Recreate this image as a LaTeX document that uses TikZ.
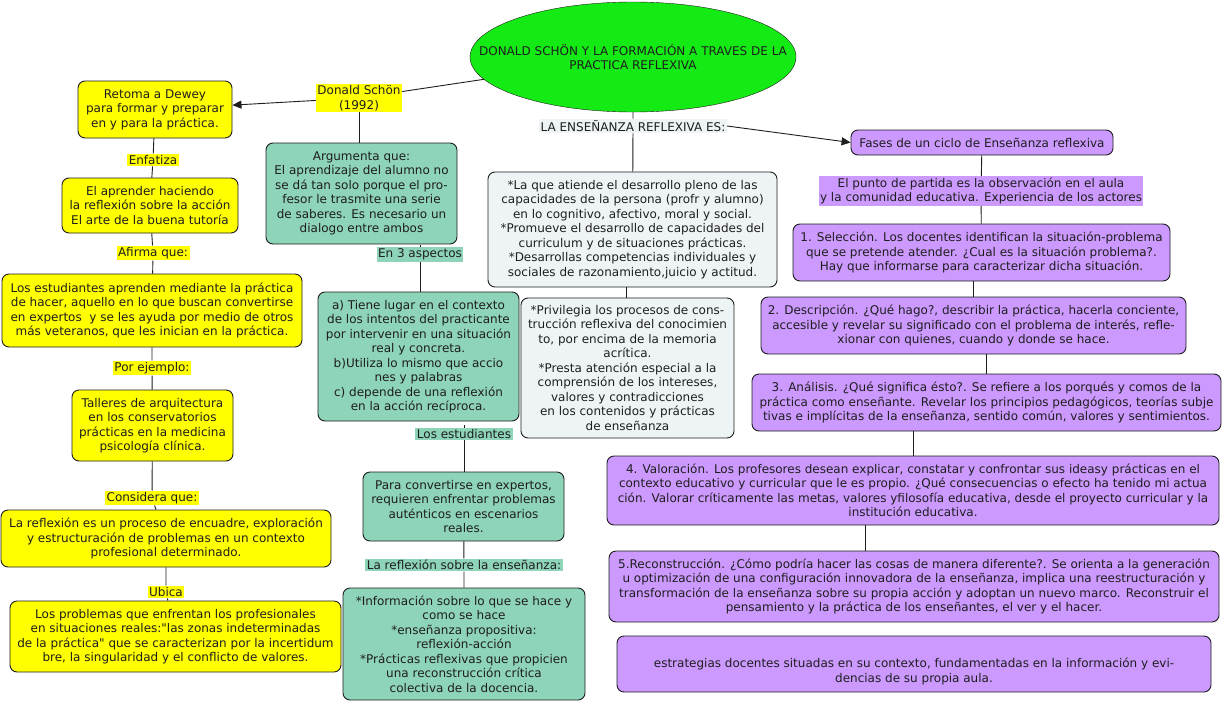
\documentclass[tikz,border=0pt]{standalone}
\usepackage{fontspec}
\setmainfont{DejaVu Sans}[Ligatures=TeXOff]
\usepackage{tikz}
\usetikzlibrary{arrows.meta, shapes.geometric}
\usepackage{xcolor}
\definecolor{brightyellow}{RGB}{255,255,0}
\definecolor{mintgreen}{RGB}{142,212,184}
\definecolor{palegray}{RGB}{238,244,246}
\definecolor{lilac}{RGB}{204,153,255}
\definecolor{limegreen}{RGB}{20,235,20}
\definecolor{inkgray}{RGB}{30,30,30}

\begin{document}
\begin{tikzpicture}[x=1pt, y=-1pt, >={Triangle[length=9pt, width=8pt]},
  every node/.style={font=\fontsize{12}{14.5}\selectfont, align=center, text=inkgray, inner sep=1.5pt},
  card/.style={draw=inkgray, line width=0.9pt, rounded corners=7pt},
  ybox/.style={card, fill=brightyellow},
  gbox/.style={card, fill=mintgreen},
  wbox/.style={card, fill=palegray},
  pbox/.style={card, fill=lilac},
  ylab/.style={fill=brightyellow},
  glab/.style={fill=mintgreen},
  plab/.style={fill=lilac},
  wlab/.style={fill=palegray},
  link/.style={draw=inkgray, line width=0.9pt}]
  \useasboundingbox[fill=white] (0,0) rectangle (1223,704);

  % Title
  \node[ellipse, draw=inkgray, fill=limegreen, minimum width=326, minimum height=110] (title) at (633,57) {};
  \node (titletext) at (title) {DONALD SCHÖN Y LA FORMACIÓN A TRAVES DE LA\\PRACTICA REFLEXIVA};

  % Left branch
  \node[ylab] (schon) at (359,98) {Donald Schön\\(1992)};
  \node[ybox, minimum width=154, minimum height=57] (retoma) at (155,109.5)
    {Retoma a Dewey\\para formar y preparar\\en y para la práctica.};
  \node[ylab] (enfatiza) at (153,160) {Enfatiza};
  \node[ybox, minimum width=176, minimum height=55] (aprender) at (150,205.5)
    {El aprender haciendo\\la reflexión sobre la acción\\El arte de la buena tutoría};
  \node[ylab] (afirma) at (153,253) {Afirma que:};
  \node[ybox, minimum width=300, minimum height=73] (estud) at (152,310.5)
    {Los estudiantes aprenden mediante la práctica\\de hacer, aquello en lo que buscan convertirse\\en expertos\ \ y se les ayuda por medio de otros\\más veteranos, que les inician en la práctica.};
  \node[ylab] (ejemplo) at (152,368) {Por ejemplo:};
  \node[ybox, minimum width=161, minimum height=71] (talleres) at (152.5,425.5)
    {Talleres de arquitectura\\en los conservatorios\\prácticas en la medicina\\psicología clínica.};
  \node[ylab] (considera) at (152,498) {Considera que:};
  \node[ybox, minimum width=330, minimum height=57] (reflexion) at (166,538.5)
    {La reflexión es un proceso de encuadre, exploración\\y estructuración de problemas en un contexto\\profesional determinado.};
  \node[ylab] (ubica) at (166,592) {Ubica};
  \node[ybox, minimum width=331, minimum height=71] (problemas) at (175.5,636.5)
    {Los problemas que enfrentan los profesionales\\en situaciones reales:"las zonas indeterminadas\\de la práctica" que se caracterizan por la incertidum\\bre, la singularidad y el conflicto de valores.};

  % Middle-left branch
  \node[gbox, minimum width=191, minimum height=101] (argumenta) at (361.5,193.5)
    {Argumenta que:\\El aprendizaje del alumno no\\se dá tan solo porque el pro-\\fesor le trasmite una serie\\de saberes. Es necesario un\\dialogo entre ambos};
  \node[glab] (aspectos) at (420,254.5) {En 3 aspectos};
  \node[gbox, minimum width=201, minimum height=129] (aspA) at (418.5,356.5)
    {a) Tiene lugar en el contexto\\de los intentos del practicante\\por intervenir en una situación\\real y concreta.\\b)Utiliza lo mismo que accio\\nes y palabras\\c) depende de una reflexión\\en la acción recíproca.};
  \node[glab] (losest) at (464,434) {Los estudiantes};
  \node[gbox, minimum width=201, minimum height=69] (para) at (463.5,506.5)
    {Para convertirse en expertos,\\requieren enfrentar problemas\\auténticos en escenarios\\reales.};
  \node[glab] (refens) at (464,565) {La reflexión sobre la enseñanza:};
  \node[gbox, minimum width=242, minimum height=112] (info) at (464,644)
    {*Información sobre lo que se hace y\\como se hace\\*enseñanza propositiva:\\reflexión-acción\\*Prácticas reflexivas que propicien\\una reconstrucción crítica\\colectiva de la docencia.};

  % Middle branch
  \node[wlab] (ensref) at (633,126) {LA ENSEÑANZA REFLEXIVA ES:};
  \node[wbox, minimum width=289, minimum height=115] (atiende) at (632.5,229.5)
    {*La que atiende el desarrollo pleno de las\\capacidades de la persona (profr y alumno)\\en lo cognitivo, afectivo, moral y social.\\*Promueve el desarrollo de capacidades del\\curriculum y de situaciones prácticas.\\*Desarrollas competencias individuales y\\sociales de razonamiento,juicio y actitud.};
  \node[wbox, minimum width=213, minimum height=140] (privilegia) at (627.5,368)
    {*Privilegia los procesos de cons-\\trucción reflexiva del conocimien\\to, por encima de la memoria\\acrítica.\\*Presta atención especial a la\\comprensión de los intereses,\\valores y contradicciones\\en los contenidos y prácticas\\de enseñanza};

  % Right branch: phases
  \node[pbox, minimum width=262, minimum height=25] (fases) at (982,142.5)
    {Fases de un ciclo de Enseñanza reflexiva};
  \node[plab] (punto) at (981,191)
    {El punto de partida es la observación en el aula\\y la comunidad educativa. Experiencia de los actores};
  \node[pbox, minimum width=377, minimum height=57] (f1) at (981.5,252.5)
    {1. Selección. Los docentes identifican la situación-problema\\que se pretende atender. ¿Cual es la situación problema?.\\Hay que informarse para caracterizar dicha situación.};
  \node[pbox, minimum width=425, minimum height=57] (f2) at (973.5,325.5)
    {2. Descripción. ¿Qué hago?, describir la práctica, hacerla conciente,\\accesible y revelar su significado con el problema de interés, refle-\\xionar con quienes, cuando y donde se hace.};
  \node[pbox, minimum width=469, minimum height=57] (f3) at (986.5,402.5)
    {3. Análisis. ¿Qué significa ésto?. Se refiere a los porqués y comos de la\\práctica como enseñante. Revelar los principios pedagógicos, teorías subje\\tivas e implícitas de la enseñanza, sentido común, valores y sentimientos.};
  \node[pbox, minimum width=612, minimum height=69] (f4) at (913,490.5)
    {4. Valoración. Los profesores desean explicar, constatar y confrontar sus ideasy prácticas en el\\contexto educativo y curricular que le es propio. ¿Qué consecuencias o efecto ha tenido mi actua\\ción. Valorar críticamente las metas, valores yfilosofía educativa, desde el proyecto curricular y la\\institución educativa.};
  \node[pbox, minimum width=610, minimum height=71] (f5) at (914,586.5)
    {5.Reconstrucción. ¿Cómo podría hacer las cosas de manera diferente?. Se orienta a la generación\\u optimización de una configuración innovadora de la enseñanza, implica una reestructuración y\\transformación de la enseñanza sobre su propia acción y adoptan un nuevo marco. Reconstruir el\\pensamiento y la práctica de los enseñantes, el ver y el hacer.};
  \node[pbox, minimum width=594, minimum height=56] (f6) at (914,664)
    {\strut\\estrategias docentes situadas en su contexto, fundamentadas en la información y evi-\\dencias de su propia aula.};

  % Connectors
  \coordinate (atA) at (626,0);
  \coordinate (atB) at (865,0);
  \coordinate (atC) at (913,0);
  \path[link] (title) -- (schon);
  \path[link, ->] (schon) -- (retoma);
  \path[link] (retoma) -- (enfatiza) -- (aprender) -- (afirma) -- (estud) -- (ejemplo)
    -- (talleres) -- (considera) -- (reflexion) -- (ubica) -- (problemas);
  \path[link] (schon) -- (schon |- argumenta.north);
  \path[link] (aspectos.north) -- ++(0,-2);
  \path[link] (aspectos) -- (aspectos |- aspA.north);
  \path[link] (losest.north) -- ++(0,-3);
  \path[link] (losest) -- (losest |- para.north);
  \path[link] (para) -- (refens) -- (info);
  \path[link] (title) -- (ensref) -- (atiende);
  \path[link] (atiende.south -| atA) -- (privilegia.north -| atA);
  \path[link, ->] (ensref.east) -- (fases.west);
  \path[link] (fases) -- (punto) -- (f1);
  \path[link] (f1.south -| f2) -- (f2);
  \path[link] (f2.south -| f3) -- (f3);
  \path[link] (f3.south -| atC) -- (f4.north -| atC);
  \path[link] (f4.south -| atB) -- (f5.north -| atB);
\end{tikzpicture}
\end{document}
